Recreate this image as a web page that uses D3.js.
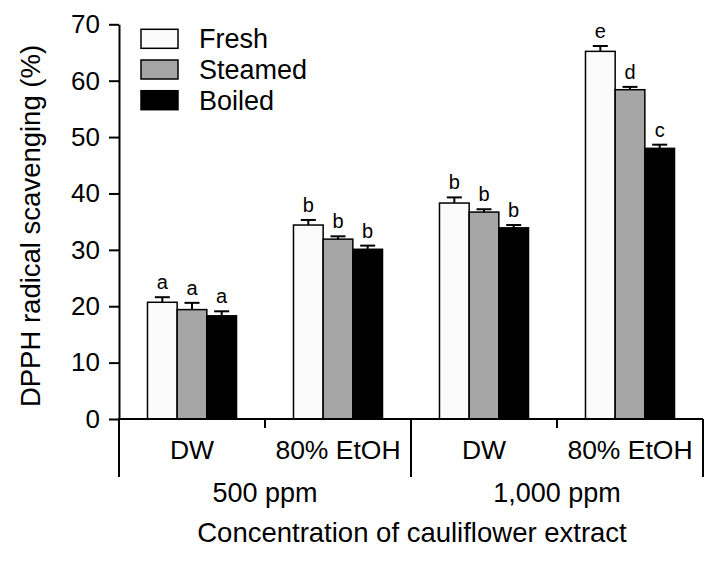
<!DOCTYPE html>
<html lang="en">
    <head>
        <meta charset="utf-8">
        <title>DPPH radical scavenging</title>
        <script src="https://d3js.org/d3.v7.min.js"></script>
        <style type="text/css">
            body { margin: 0; background: #fff; }
            text { font-family: Arial, "Liberation Sans", Helvetica, sans-serif; fill: #000; }
        </style>
    </head>
    <body>
        <script>
            // data
            var categories = ["DW", "80% EtOH", "DW", "80% EtOH"];
            var concentrations = ["500 ppm", "1,000 ppm"];
            var series = ["Fresh", "Steamed", "Boiled"];
            var fresh = [20.7, 34.4, 38.3, 65.2];
            var freshErr = [0.9, 0.9, 1.0, 0.95];
            var steamed = [19.4, 31.9, 36.7, 58.4];
            var steamedErr = [1.2, 0.5, 0.5, 0.5];
            var boiled = [18.3, 30.1, 33.9, 48.0];
            var boiledErr = [0.8, 0.65, 0.5, 0.65];
            var freshLetters = ["a", "b", "b", "e"];
            var steamedLetters = ["a", "b", "b", "d"];
            var boiledLetters = ["a", "b", "b", "c"];
            var yTicks = [0, 10, 20, 30, 40, 50, 60, 70];

            // configuration
            var outerWidth = 719, outerHeight = 563;
            var plotLeft = 119, plotRight = 703, plotTop = 24.3, plotBottom = 419;
            var fills = { "Fresh": "#fbfbfb", "Steamed": "#a6a6a6", "Boiled": "#000000" };

            var rows = series.map(function (s, k) {
                var vals = [fresh, steamed, boiled][k];
                var errs = [freshErr, steamedErr, boiledErr][k];
                var lets = [freshLetters, steamedLetters, boiledLetters][k];
                return categories.map(function (c, i) {
                    return { series: s, idx: i, value: vals[i], err: errs[i], letter: lets[i] };
                });
            });
            var data = d3.merge(rows);

            var svg = d3.select("body").append("svg")
                .attr("width", outerWidth)
                .attr("height", outerHeight);

            var x0 = d3.scaleBand().domain(d3.range(categories.length)).range([plotLeft, plotRight]);
            var x1 = d3.scaleBand().domain(series).range([0, x0.bandwidth()]).paddingOuter(0.96);
            var y = d3.scaleLinear().domain([0, 70]).range([plotBottom, plotTop]);

            // bars
            svg.append("g").selectAll("rect").data(data).enter().append("rect")
                .attr("x", function (d) { return x0(d.idx) + x1(d.series); })
                .attr("y", function (d) { return y(d.value); })
                .attr("width", x1.bandwidth())
                .attr("height", function (d) { return y(0) - y(d.value); })
                .attr("fill", function (d) { return fills[d.series]; })
                .attr("stroke", "#000")
                .attr("stroke-width", 1.5);

            // error bars
            var eb = svg.append("g").attr("stroke", "#000").attr("stroke-width", 2);
            data.forEach(function (d) {
                var cx = x0(d.idx) + x1(d.series) + x1.bandwidth() / 2;
                eb.append("line")
                    .attr("x1", cx).attr("x2", cx)
                    .attr("y1", y(d.value)).attr("y2", y(d.value + d.err));
                eb.append("line")
                    .attr("x1", cx - 7.5).attr("x2", cx + 7.5)
                    .attr("y1", y(d.value + d.err)).attr("y2", y(d.value + d.err));
            });

            // significance letters
            svg.append("g").selectAll("text").data(data).enter().append("text")
                .attr("x", function (d) { return x0(d.idx) + x1(d.series) + x1.bandwidth() / 2; })
                .attr("y", function (d) { return y(d.value + d.err) - 8; })
                .attr("text-anchor", "middle")
                .style("font-size", "20px")
                .text(function (d) { return d.letter; });

            // y axis
            var yAxis = svg.append("g")
                .attr("transform", "translate(" + plotLeft + ",0)")
                .call(d3.axisLeft(y).tickValues(yTicks).tickSize(10).tickSizeOuter(0).tickPadding(9));
            yAxis.select(".domain").attr("stroke-width", 2);
            yAxis.selectAll(".tick line").attr("stroke-width", 2);
            yAxis.selectAll(".tick text").style("font-size", "26px").attr("font-family", null);

            // x axis baseline and separators
            var xa = svg.append("g").attr("stroke", "#000").attr("stroke-width", 2);
            xa.append("line").attr("x1", plotLeft - 1).attr("x2", plotRight).attr("y1", y(0)).attr("y2", y(0));
            d3.range(categories.length + 1).forEach(function (i) {
                var xx = i < categories.length ? x0(i) : plotRight;
                var isLong = i % 2 === 0;
                xa.append("line")
                    .attr("x1", xx).attr("x2", xx)
                    .attr("y1", y(0)).attr("y2", isLong ? 477 : 428);
            });

            // category labels
            svg.append("g").selectAll("text").data(categories).enter().append("text")
                .attr("x", function (d, i) { return x0(i) + x0.bandwidth() / 2; })
                .attr("y", 459)
                .attr("text-anchor", "middle")
                .style("font-size", "26.5px")
                .text(function (d) { return d; });

            svg.append("g").selectAll("text").data(concentrations).enter().append("text")
                .attr("x", function (d, i) { return x0(i * 2 + 1); })
                .attr("y", 502)
                .attr("text-anchor", "middle")
                .style("font-size", "27px")
                .text(function (d) { return d; });

            svg.append("text")
                .attr("x", (plotLeft + plotRight) / 2 + 1)
                .attr("y", 542)
                .attr("text-anchor", "middle")
                .style("font-size", "27.5px")
                .text("Concentration of cauliflower extract");

            svg.append("text")
                .attr("transform", "translate(40,226) rotate(-90)")
                .attr("text-anchor", "middle")
                .style("font-size", "27.5px")
                .text("DPPH radical scavenging (%)");

            // legend
            var legend = svg.append("g").selectAll("g").data(series).enter().append("g")
                .attr("transform", function (d, i) { return "translate(141," + (29.3 + i * 30.7) + ")"; });
            legend.append("rect")
                .attr("width", 37).attr("height", 19)
                .attr("fill", function (d) { return fills[d]; })
                .attr("stroke", "#000").attr("stroke-width", 1.5);
            legend.append("text")
                .attr("x", 58).attr("y", 19)
                .style("font-size", "27px")
                .text(function (d) { return d; });
        </script>
    </body>
</html>
